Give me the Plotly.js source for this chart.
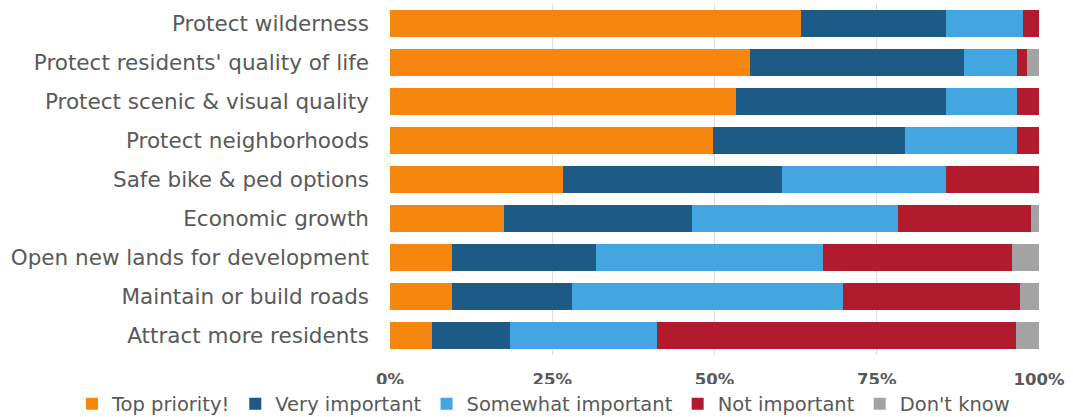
<!DOCTYPE html>
<html>
<head>
<meta charset="utf-8">
<script src="https://cdn.plot.ly/plotly-3.0.1.min.js"></script>
<style>html,body{margin:0;padding:0;background:#fff;}#chart{width:1073px;height:417px;}</style>
</head>
<body>
<div id="chart"></div>
<script>
const categories = [
  "Protect wilderness",
  "Protect residents' quality of life",
  "Protect scenic & visual quality",
  "Protect neighborhoods",
  "Safe bike & ped options",
  "Economic growth",
  "Open new lands for development",
  "Maintain or build roads",
  "Attract more residents"
];
const seriesNames = ["Top priority!", "Very important", "Somewhat important", "Not important", "Don't know"];
const topPriority       = [63.3, 55.4, 53.3, 49.8, 26.7, 17.6,  9.5,  9.5,  6.5];
const veryImportant     = [22.3, 33.1, 32.3, 29.5, 33.7, 28.9, 22.2, 18.5, 12.0];
const somewhatImportant = [11.9,  8.1, 11.0, 17.3, 25.2, 31.7, 35.0, 41.8, 22.7];
const notImportant      = [ 2.5,  1.6,  3.4,  3.4, 14.4, 20.6, 29.2, 27.2, 55.3];
const dontKnow          = [ 0.0,  1.8,  0.0,  0.0,  0.0,  1.2,  4.1,  3.0,  3.5];
const colors = ["#F7860F", "#1D5A85", "#43A6E0", "#B21A2E", "#A3A3A3"];
const tickVals = [0, 25, 50, 75, 100];
const tickText = ["0%", "25%", "50%", "75%", "100%"];

const values = [topPriority, veryImportant, somewhatImportant, notImportant, dontKnow];
const traces = values.map((v, i) => ({
  type: 'bar',
  orientation: 'h',
  name: seriesNames[i],
  x: v,
  y: categories,
  marker: {color: colors[i], line: {width: 0}},
  hoverinfo: 'skip'
}));

const layout = {
  width: 1073,
  height: 417,
  paper_bgcolor: '#ffffff',
  plot_bgcolor: '#ffffff',
  barmode: 'stack',
  bargap: 0.33,
  margin: {l: 390, r: 34, t: 4, b: 62, autoexpand: false},
  font: {family: 'DejaVu Sans, Verdana, sans-serif', color: '#595959'},
  xaxis: {
    range: [0, 100],
    tickvals: tickVals,
    ticktext: tickText,
    tickfont: {size: 16.5, family: 'DejaVu Sans, Verdana, sans-serif', color: '#595959', weight: 'bold'},
    showgrid: true,
    gridcolor: '#DEDEDE',
    gridwidth: 1,
    zeroline: false,
    showline: false,
    ticks: '',
    ticklabelstandoff: 12,
    automargin: false,
    fixedrange: true
  },
  yaxis: {
    autorange: 'reversed',
    type: 'category',
    tickfont: {size: 21.5, color: '#595959'},
    showgrid: false,
    zeroline: false,
    showline: false,
    ticks: '',
    ticklabelstandoff: 20,
    automargin: false,
    fixedrange: true
  },
  showlegend: true,
  legend: {
    orientation: 'h',
    xref: 'paper',
    yref: 'paper',
    x: -0.49,
    xanchor: 'left',
    y: -0.084,
    yanchor: 'top',
    traceorder: 'normal',
    font: {size: 19.5, color: '#595959'},
    itemclick: false,
    itemdoubleclick: false
  }
};

Plotly.newPlot('chart', traces, layout, {staticPlot: true, displayModeBar: false});
</script>
</body>
</html>
